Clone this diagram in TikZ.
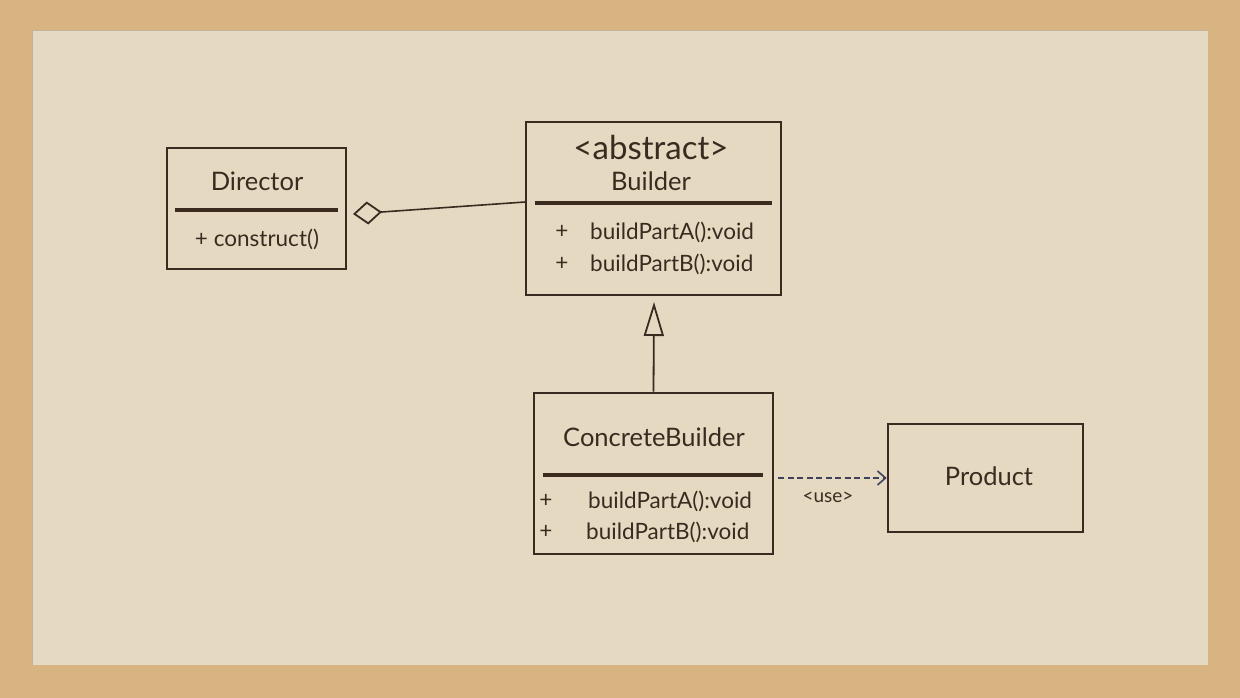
\documentclass[tikz,border=0pt]{standalone}
\usepackage{fontspec}
\setmainfont{Lato}
\usetikzlibrary{arrows.meta}
\definecolor{desk}{RGB}{216,180,130}
\definecolor{paper}{RGB}{229,218,193}
\definecolor{ink}{RGB}{58,42,32}
\definecolor{usecol}{RGB}{62,66,92}
\tikzset{
  umlbox/.style={draw=ink, line width=2.6pt, fill=none, inner sep=0pt},
  sepline/.style={draw=ink, line width=3.2pt},
  ttl/.style={text=ink, inner sep=0pt, font=\fontsize{25.5}{30}\selectfont},
  lbl/.style={text=ink, inner sep=0pt, font=\fontsize{22.5}{27}\selectfont},
  big/.style={text=ink, inner sep=0pt, font=\fontsize{33}{38}\selectfont},
  small/.style={text=ink, inner sep=0pt, font=\fontsize{19}{22}\selectfont},
}
\begin{document}
\begin{tikzpicture}[x=1pt,y=-1pt]
\useasboundingbox (0,0) rectangle (1240,698);
\fill[desk] (0,0) rectangle (1240,698);
\fill[paper] (32,30) rectangle (1208,665);
\draw[desk!70!black!60, line width=0.8pt] (32,665) -- (32,30) -- (1208,30);
% Director
\node[umlbox, minimum width=179pt, minimum height=121pt] (director) at (256.5,208.5) {};
\node[ttl] (dirname) at (257,181) {Director};
\node[lbl] (dirop) at (257,239) {+ construct()};
\coordinate (dsl) at (175,210); \coordinate (dsr) at (338,210);
\draw[sepline] (dsl) -- (dsr);
% Builder
\node[umlbox, minimum width=255pt, minimum height=173pt] (builder) at (653.5,208.5) {};
\node[big] (abs) at (651,147) {<abstract>};
\node[ttl] (bname) at (651,181) {Builder};
\coordinate (bsl) at (535,203); \coordinate (bsr) at (772,203);
\draw[sepline] (bsl) -- (bsr);
\node[lbl] (bp1) at (562,232) {+};
\node[lbl, anchor=west] (bopa) at (590,232) {buildPartA():void};
\node[lbl] (bp2) at (562,264) {+};
\node[lbl, anchor=west] (bopb) at (590,264) {buildPartB():void};
% ConcreteBuilder
\node[umlbox, minimum width=239pt, minimum height=161pt] (concrete) at (653.5,473.5) {};
\node[ttl] (cname) at (654,437) {ConcreteBuilder};
\coordinate (csl) at (543,475); \coordinate (csr) at (763,475);
\draw[sepline] (csl) -- (csr);
\node[lbl] (cp1) at (546,501) {+};
\node[lbl, anchor=west] (copa) at (588,501) {buildPartA():void};
\node[lbl] (cp2) at (546,532) {+};
\node[lbl, anchor=west] (copb) at (586,532) {buildPartB():void};
% Product
\node[umlbox, minimum width=195pt, minimum height=108pt] (product) at (985.5,478) {};
\node[ttl] (pname) at (989,476) {Product};
% aggregation
\coordinate (dagg) at (353,214);
\coordinate (bagg) at (525,202);
\draw[ink, line width=1.6pt, {Diamond[open, length=29pt, width=23pt, line width=1.8pt]}-] (dagg) -- (bagg);
% inheritance
\coordinate (tip) at (654,302);
\draw[ink, line width=1.8pt, -{Triangle[open, length=34pt, width=20pt, line width=1.8pt]}] (concrete.north) -- (tip);
% use
\coordinate (ust) at (778,478);
\draw[usecol, line width=2.6pt, dash pattern=on 6pt off 3.5pt, -{Straight Barb[length=8pt, width=14pt, line width=1.6pt]}] (ust) -- (product.west);
\node[small] (use) at (828,497) {<use>};
\end{tikzpicture}
\end{document}
